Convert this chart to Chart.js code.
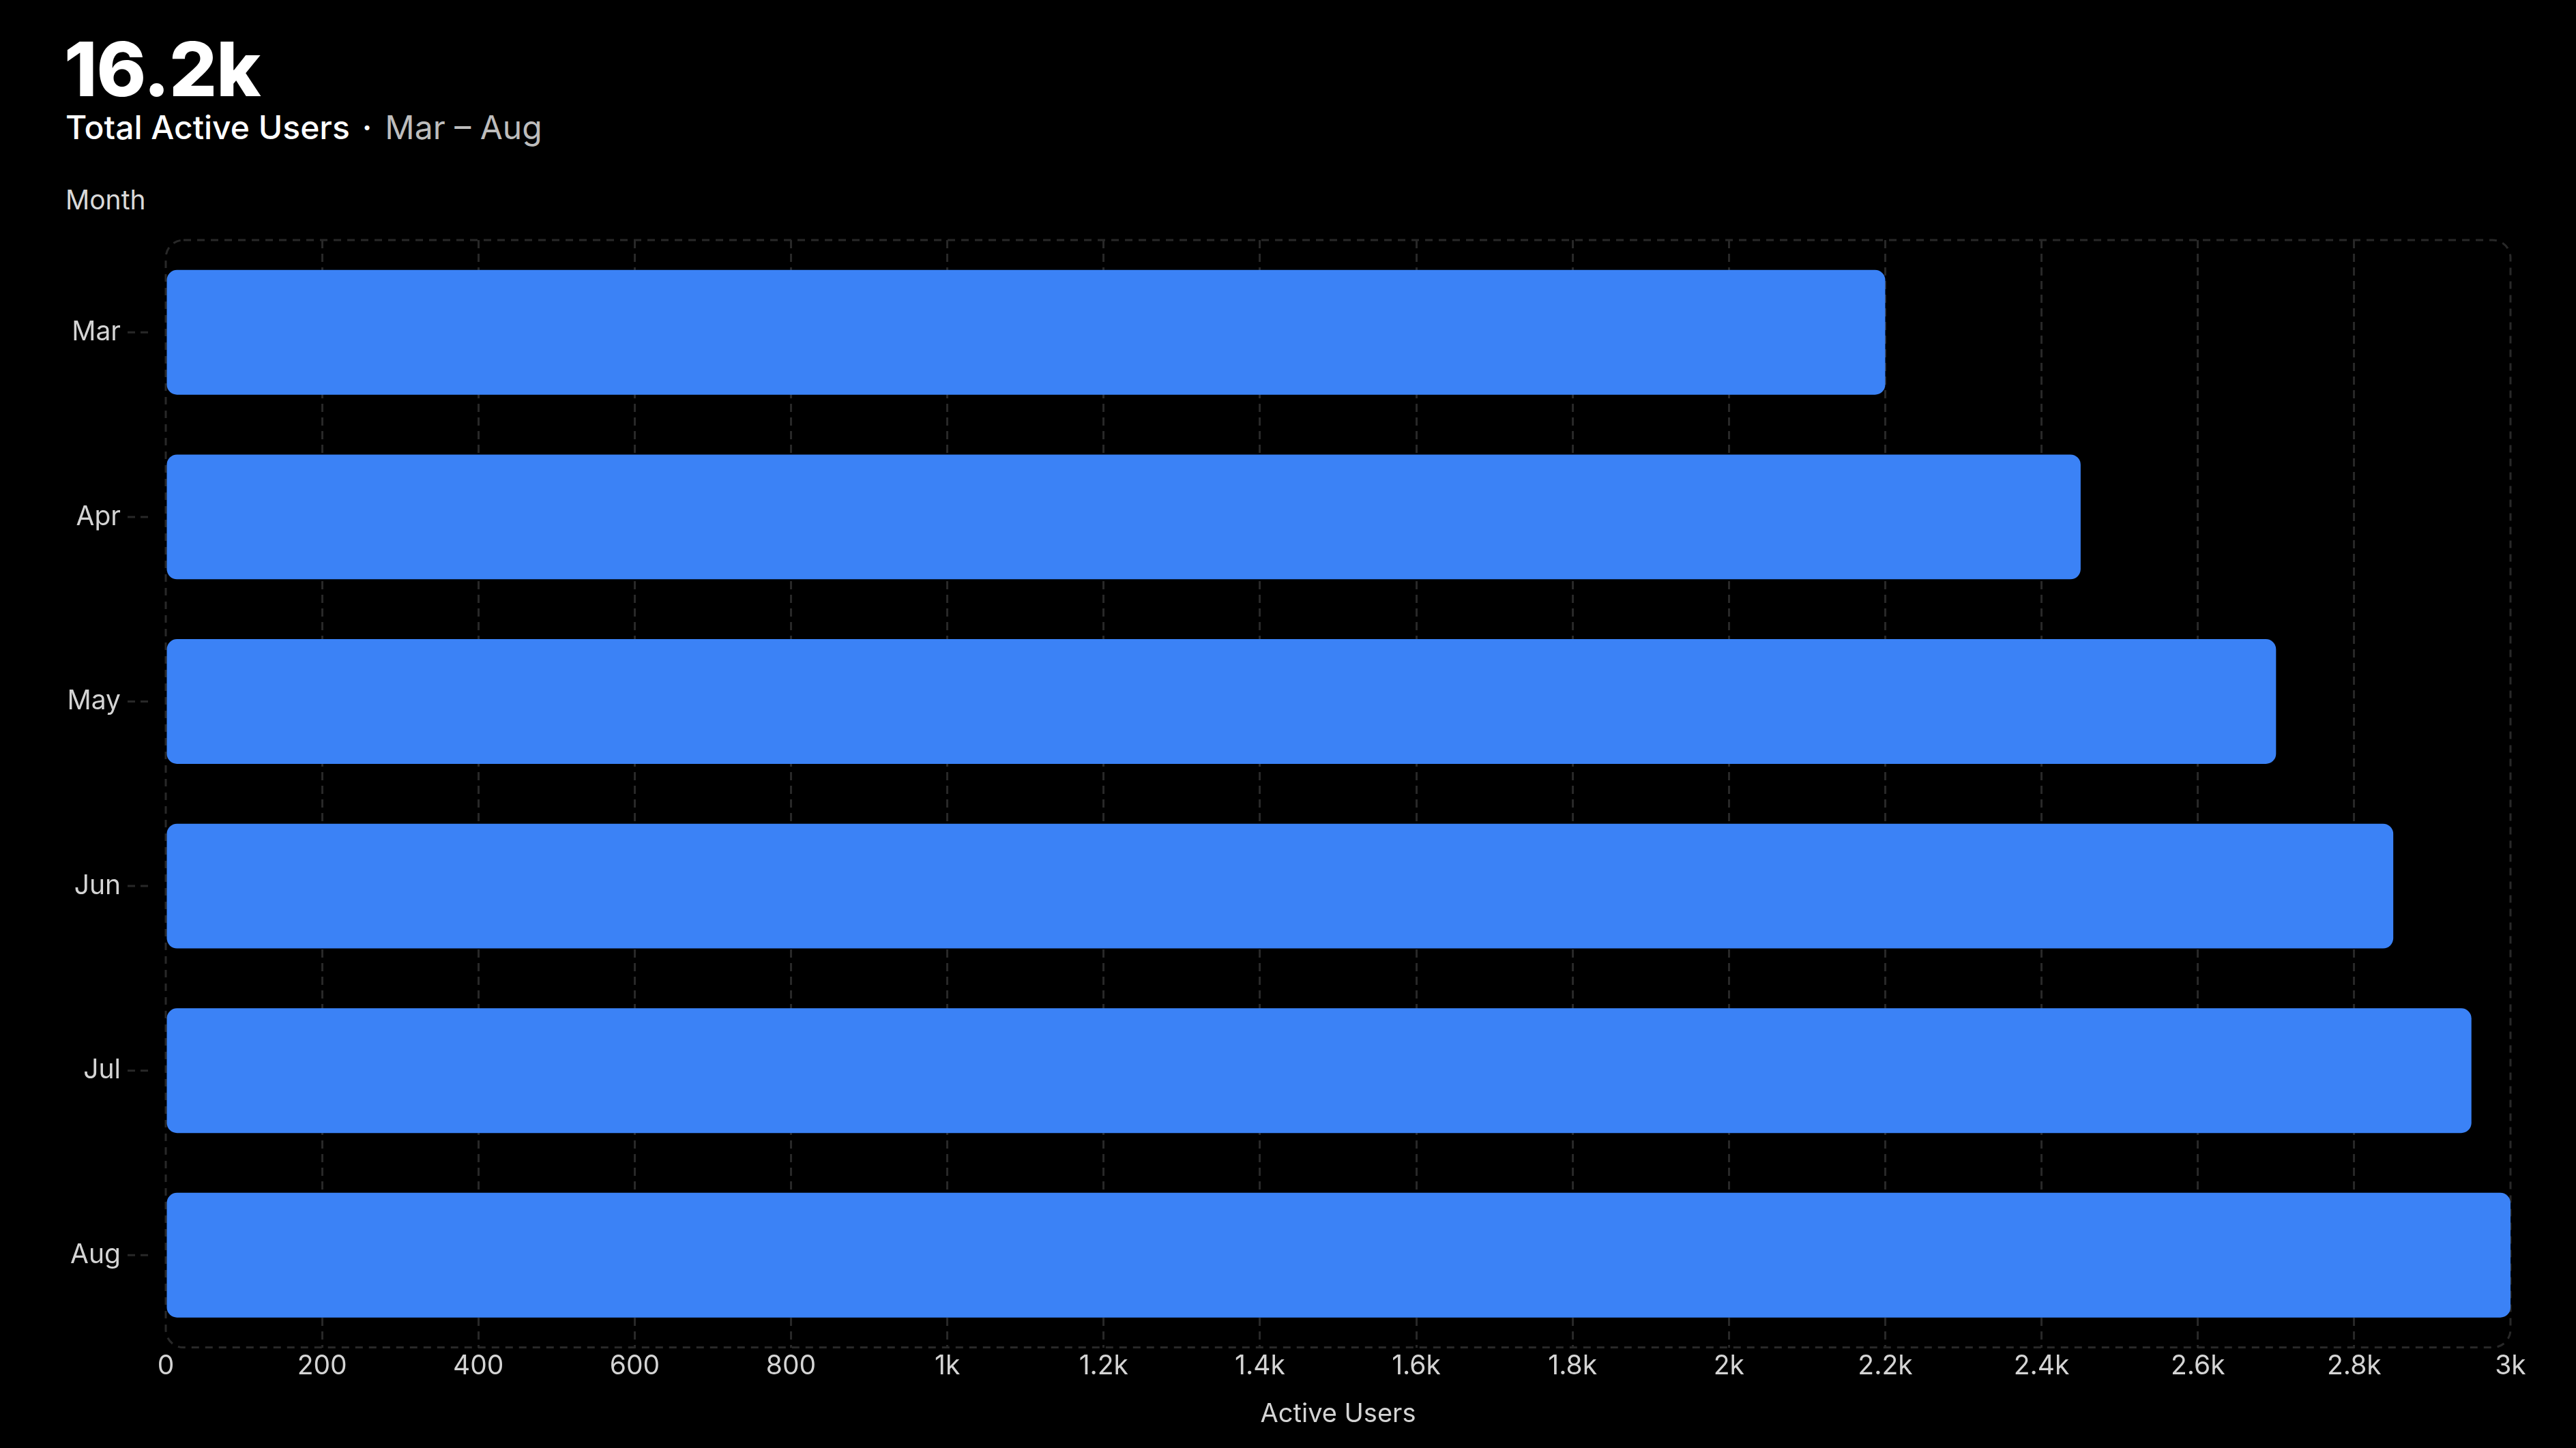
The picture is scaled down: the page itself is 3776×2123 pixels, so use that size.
<!DOCTYPE html>
<html>
<head>
<meta charset="utf-8">
<script src="https://cdn.jsdelivr.net/npm/chart.js@4"></script>
<style>
  html, body { margin: 0; padding: 0; background: #000; overflow: hidden; }
  body { width: 3776px; height: 2123px; position: relative; font-family: Inter, "Noto Sans", sans-serif; }
  #big { position: absolute; left: 94px; top: 46px; font-size: 110px; font-weight: 800; color: #fff; letter-spacing: -1px; line-height: 1; }
  #sub { position: absolute; left: 96px; top: 158px; font-size: 48px; font-weight: 450; color: #fff; line-height: 1.2; white-space: nowrap; }
  #sub .dim { color: #bdbdbd; font-weight: 400; }
  #sub .sep { margin: 0 19px 0 18px; }
  #ytitle { position: absolute; left: 96px; top: 270px; font-size: 39px; color: #d9d9d9; line-height: 1.2; }
  canvas { position: absolute; left: 0; top: 0; }
</style>
</head>
<body>
<div id="big">16.2k</div>
<div id="sub">Total Active Users<span class="sep">·</span><span class="dim">Mar – Aug</span></div>
<div id="ytitle">Month</div>
<canvas id="myChart" width="3776" height="2123"></canvas>

<script>
  const months = ["Mar", "Apr", "May", "Jun", "Jul", "Aug"];
  const activeUsers = [2200, 2450, 2700, 2850, 2950, 3000];
  const xTicks = [0, 200, 400, 600, 800, 1000, 1200, 1400, 1600, 1800, 2000, 2200, 2400, 2600, 2800, 3000];

  const gridColor = '#282828';

  // rounded dashed frame + little dashed tick marks next to the month labels
  const frame = {
    id: 'frame',
    beforeDatasetsDraw(chart) {
      const a = chart.chartArea;
      const c = chart.ctx;
      c.save();
      c.strokeStyle = gridColor;
      c.lineWidth = 3;
      c.setLineDash([11, 9]);
      c.beginPath();
      c.roundRect(a.left, a.top, a.right - a.left, a.bottom - a.top, 26);
      c.stroke();

      const y = chart.scales.y;
      c.setLineDash([11, 8]);
      y.ticks.forEach((t, i) => {
        const py = y.getPixelForTick(i);
        c.beginPath();
        c.moveTo(a.left - 56, py);
        c.lineTo(a.left - 25, py);
        c.stroke();
      });
      c.restore();
    }
  };

  let ctx = document.getElementById("myChart");

  new Chart(ctx, {
    type: 'bar',
    data: {
      labels: months,
      datasets: [{
        label: 'Active Users',
        data: activeUsers,
        backgroundColor: '#3b82f6',
        borderWidth: 0,
        borderRadius: 15,
        borderSkipped: false,
        barPercentage: 0.676,
        categoryPercentage: 1
      }]
    },
    options: {
      indexAxis: 'y',
      responsive: false,
      devicePixelRatio: 1,
      animation: false,
      layout: { padding: { top: 352, left: 96, right: 96, bottom: 23 } },
      plugins: { legend: { display: false }, tooltip: { enabled: false } },
      scales: {
        x: {
          min: 0,
          max: 3000,
          afterBuildTicks: (s) => { s.ticks = xTicks.map(v => ({ value: v })); },
          border: { display: false, dash: [12, 8] },
          grid: {
            color: (c) => (c.index === 0 || c.index === xTicks.length - 1) ? 'rgba(0,0,0,0)' : gridColor,
            lineWidth: 3,
            drawTicks: false,
            tickLength: 0
          },
          ticks: {
            padding: 4,
            color: '#d4d4d4',
            font: { family: 'Inter', size: 39 },
            callback: (v) => v >= 1000 ? (v / 1000) + 'k' : '' + v
          },
          title: {
            display: true,
            text: 'Active Users',
            color: '#d4d4d4',
            font: { family: 'Inter', size: 38 },
            padding: { top: 20, bottom: 4 }
          }
        },
        y: {
          border: { display: false },
          grid: { display: false, drawTicks: false },
          afterFit: (s) => { s.width = 147; },
          ticks: {
            padding: 66,
            color: '#d4d4d4',
            font: { family: 'Inter', size: 39 }
          }
        }
      }
    },
    plugins: [frame]
  });
</script>
</body>
</html>
